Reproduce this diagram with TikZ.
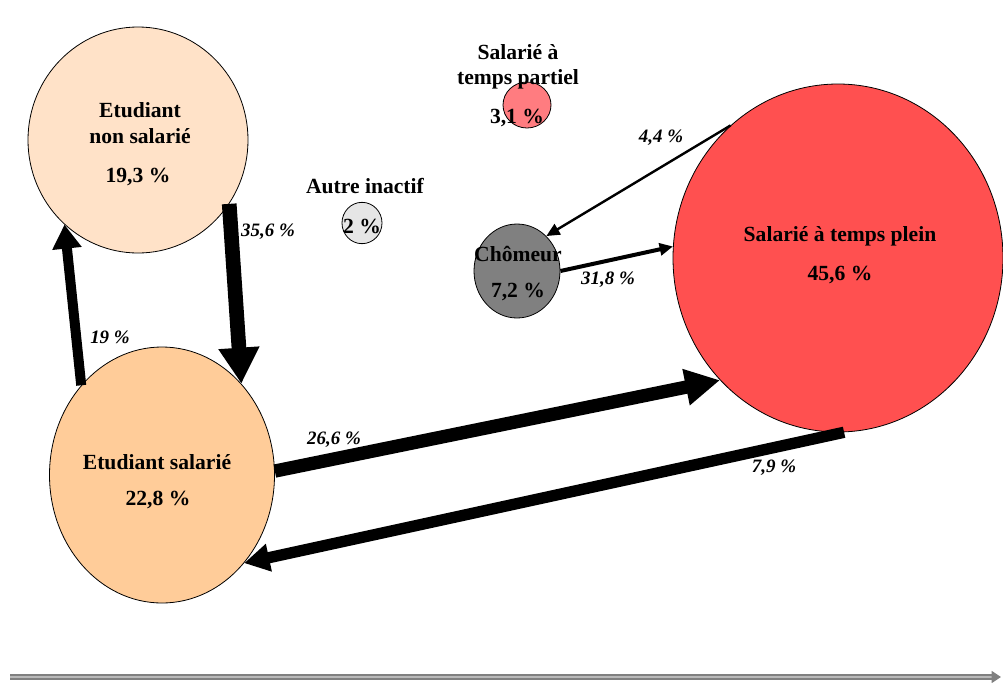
\documentclass[tikz,border=0pt]{standalone}
\usepackage{fontspec}
\setmainfont{Liberation Serif}
\usetikzlibrary{shapes.geometric,arrows.meta}
\definecolor{peachA}{HTML}{FFE2C8}
\definecolor{peachB}{HTML}{FFCC99}
\definecolor{redA}{HTML}{FF5050}
\definecolor{pinkA}{HTML}{FF7C80}
\definecolor{grayA}{HTML}{808080}
\definecolor{grayB}{HTML}{E6E6E6}
\tikzset{
  bubble/.style={ellipse, draw=black, line width=0.6pt, inner sep=0pt},
  title/.style={font=\bfseries\fontsize{16.2}{19}\selectfont, align=center, inner sep=0pt},
  pct/.style={font=\bfseries\itshape\fontsize{14.2}{16}\selectfont, inner sep=0pt},
  flow/.style={draw=black, line cap=butt},
}
\begin{document}
\begin{tikzpicture}[x=0.75pt,y=-0.75pt]
\useasboundingbox (0,0) rectangle (1003,682);
% bubbles
\node[bubble, fill=peachA, minimum width=165pt, minimum height=169.5pt] (ens) at (138,140) {};
\node[bubble, fill=peachB, minimum width=168.75pt, minimum height=192pt] (es) at (162,475) {};
\node[bubble, fill=redA, minimum width=247.5pt, minimum height=261pt] (stp) at (838,258) {};
\node[bubble, fill=grayA, minimum width=64.5pt, minimum height=70.5pt] (ch) at (517,271) {};
\node[bubble, fill=pinkA, minimum width=36pt, minimum height=34.5pt] (spa) at (527,105) {};
\node[bubble, fill=grayB, minimum width=30pt, minimum height=31pt] (ai) at (362,223) {};
% flows
\draw[flow, line width=11pt, -{Triangle[length=27pt,width=29pt]}] (ens.-35) -- (es.49);
\draw[flow, line width=7.5pt, -{Triangle[length=18pt,width=21pt]}] (es.132) -- (ens.229);
\draw[flow, line width=10pt, -{Triangle[length=26pt,width=26pt]}] (es.2) -- (stp.226);
\draw[flow, line width=8.5pt, -{Triangle[length=19pt,width=20pt]}] (stp.272) -- (es.313);
\draw[flow, line width=3pt, -{Triangle[length=10pt,width=9pt]}] (ch.0) -- (stp.176);
\draw[flow, line width=1.8pt, -{Triangle[length=10pt,width=9pt]}] (stp.129) -- (ch.50);
% flow labels
\node[pct] (l356) at (268,232) {35,6 \%};
\node[pct] (l19) at (110,337) {19 \%};
\node[pct] (l266) at (334,440) {26,6 \%};
\node[pct] (l79) at (774,468) {7,9 \%};
\node[pct] (l318) at (608,280) {31,8 \%};
\node[pct] (l44) at (661,138) {4,4 \%};
% titles
\node[title] (tens) at (140,123) {Etudiant\\non salarié};
\node[title] (vens) at (138,177) {19,3 \%};
\node[title] (tes) at (157,462) {Etudiant salarié};
\node[title] (ves) at (158,500) {22,8 \%};
\node[title] (tstp) at (840,236) {Salarié à temps plein};
\node[title] (vstp) at (840,275) {45,6 \%};
\node[title] (tch) at (518,254) {Chômeur};
\node[title] (vch) at (518,292) {7,2 \%};
\node[title] (tspa) at (518,67) {Salarié à\\temps partiel};
\node[title] (vspa) at (517,118) {3,1 \%};
\node[title] (tai) at (365,186) {Autre inactif};
\node[title] (vai) at (362,226) {2 \%};
% time axis
\coordinate (t0) at (10,677);
\coordinate (t1) at (1001,677);
\draw[draw=grayA, double=gray!55, double distance=1.6pt, line width=1.1pt, -{Triangle[length=7pt,width=9pt]}] (t0) -- (t1);
\end{tikzpicture}
\end{document}
